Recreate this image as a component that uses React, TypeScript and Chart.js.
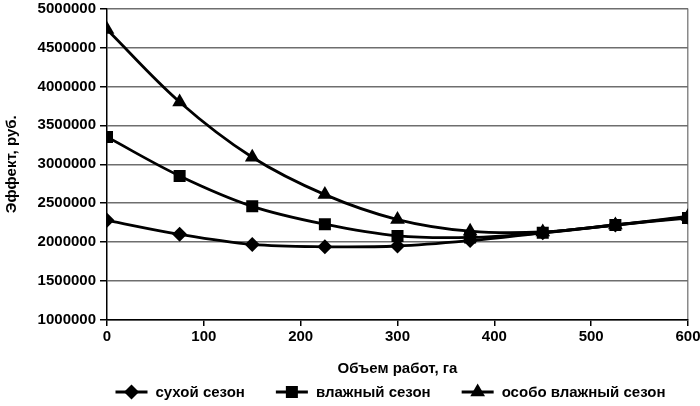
import React, { useEffect, useRef } from "react";
import { Chart, registerables } from "chart.js";

Chart.register(...registerables);

// ---- data ----
const volumes = [0, 75, 150, 225, 300, 375, 450, 525, 600];
const drySeason = [2280000, 2100000, 1970000, 1940000, 1950000, 2020000, 2120000, 2220000, 2320000];
const wetSeason = [3350000, 2850000, 2460000, 2230000, 2080000, 2060000, 2120000, 2220000, 2310000];
const veryWetSeason = [4730000, 3800000, 3090000, 2610000, 2290000, 2140000, 2130000, 2220000, 2330000];
const seriesNames = ["сухой сезон", "влажный сезон", "особо влажный сезон"];
const seriesMarkers = ["rectRot", "rect", "triangle"];
const xTitle = "Объем работ, га";
const yTitle = "Эффект, руб.";
const xMin = 0;
const xMax = 600;
const xStep = 100;
const yMin = 1000000;
const yMax = 5000000;
const yStep = 500000;

const FONT_FAMILY = '"Liberation Sans", Arial, sans-serif';

function markerRadius(style: string) {
  if (style === "rect") return 8.5;
  if (style === "triangle") return 8.5;
  return 7.5;
}

function drawMarker(ctx: CanvasRenderingContext2D, style: string, x: number, y: number, r: number) {
  ctx.beginPath();
  if (style === "rect") {
    const s = Math.SQRT1_2 * r;
    ctx.rect(x - s, y - s, 2 * s, 2 * s);
  } else if (style === "triangle") {
    let rad = 0;
    ctx.moveTo(x + Math.sin(rad) * r, y - Math.cos(rad) * r);
    rad += (2 * Math.PI) / 3;
    ctx.lineTo(x + Math.sin(rad) * r, y - Math.cos(rad) * r);
    rad += (2 * Math.PI) / 3;
    ctx.lineTo(x + Math.sin(rad) * r, y - Math.cos(rad) * r);
    ctx.closePath();
  } else {
    ctx.moveTo(x - r, y);
    ctx.lineTo(x, y - r);
    ctx.lineTo(x + r, y);
    ctx.lineTo(x, y + r);
    ctx.closePath();
  }
  ctx.fill();
}

const legendPlugin = {
  id: "seriesLegend",
  afterDraw(chart: any) {
    const ctx: CanvasRenderingContext2D = chart.ctx;
    ctx.save();
    ctx.font = `bold 15px ${FONT_FAMILY}`;
    const lineLen = 32;
    const gapText = 8;
    const gapItem = 31;
    const items = chart.data.datasets.map((ds: any) => ({
      label: ds.label as string,
      style: ds.pointStyle as string,
      r: ds.pointRadius as number,
      w: ctx.measureText(ds.label).width,
    }));
    const total =
      items.reduce((a: number, it: any) => a + lineLen + gapText + it.w, 0) + gapItem * (items.length - 1);
    const area = chart.chartArea;
    let x = (area.left + area.right) / 2 - 7 - total / 2;
    const y = chart.height - 14;
    ctx.fillStyle = "#000";
    ctx.strokeStyle = "#000";
    ctx.textBaseline = "middle";
    ctx.textAlign = "left";
    for (const it of items) {
      ctx.lineWidth = 3;
      ctx.beginPath();
      ctx.moveTo(x, y);
      ctx.lineTo(x + lineLen, y);
      ctx.stroke();
      drawMarker(ctx, it.style, x + lineLen / 2, y, it.r);
      ctx.fillText(it.label, x + lineLen + gapText, y + 1);
      x += lineLen + gapText + it.w + gapItem;
    }
    ctx.restore();
  },
};

export default function App() {
  const canvasRef = useRef<HTMLCanvasElement | null>(null);

  useEffect(() => {
    if (!canvasRef.current) return;
    Chart.defaults.font.family = FONT_FAMILY;
    Chart.defaults.color = "#000";

    const seriesValues = [drySeason, wetSeason, veryWetSeason];
    const datasets = seriesValues.map((vals, i) => ({
      label: seriesNames[i],
      data: volumes.map((v, j) => ({ x: v, y: vals[j] })),
      borderColor: "#000",
      backgroundColor: "#000",
      borderWidth: 2.8,
      pointStyle: seriesMarkers[i],
      pointRadius: markerRadius(seriesMarkers[i]),
      pointBorderWidth: 0,
      pointBackgroundColor: "#000",
      tension: 0.35,
      fill: false,
    }));

    const chart = new Chart(canvasRef.current, {
      type: "line",
      data: { datasets: datasets as any },
      plugins: [legendPlugin],
      options: {
        animation: false,
        responsive: true,
        maintainAspectRatio: false,
        layout: { padding: { top: 8, right: 12, bottom: 28, left: 0 } },
        plugins: {
          legend: { display: false },
          tooltip: { enabled: false },
        },
        scales: {
          x: {
            type: "linear",
            min: xMin,
            max: xMax,
            ticks: {
              stepSize: xStep,
              color: "#000",
              font: { size: 15, weight: "bold" },
              padding: 2,
              maxRotation: 0,
            },
            grid: {
              color: (c: any) => (c.tick && c.tick.value === xMax ? "#8a8a8a" : "rgba(0,0,0,0)"),
              lineWidth: 1.5,
              tickColor: "#000",
              tickLength: 6,
            },
            border: { color: "#000", width: 1.5 },
            title: {
              display: true,
              text: xTitle,
              color: "#000",
              font: { size: 15, weight: "bold" },
              padding: { top: 4, bottom: 0 },
            },
            afterFit: (s: any) => {
              s.height = 58;
              s.paddingLeft = 0;
              s.paddingRight = 0;
            },
          },
          y: {
            type: "linear",
            min: yMin,
            max: yMax,
            ticks: {
              stepSize: yStep,
              color: "#000",
              font: { size: 15, weight: "bold" },
              padding: 4,
              callback: (v: any) => String(v),
            },
            grid: {
              color: "#6e6e6e",
              lineWidth: 1.5,
              tickColor: "#000",
              tickLength: 7,
            },
            border: { color: "#000", width: 1.5 },
            title: {
              display: true,
              text: yTitle,
              color: "#000",
              font: { size: 15, weight: "bold" },
              padding: { top: 3, bottom: 0 },
            },
            afterFit: (s: any) => {
              s.width = 107;
              s.paddingTop = 0;
              s.paddingBottom = 0;
            },
          },
        },
      } as any,
    });

    return () => chart.destroy();
  }, []);

  return (
    <div style={{ position: "absolute", left: 0, top: 0, width: 700, height: 406, background: "#fff" }}>
      <canvas ref={canvasRef} />
    </div>
  );
}
